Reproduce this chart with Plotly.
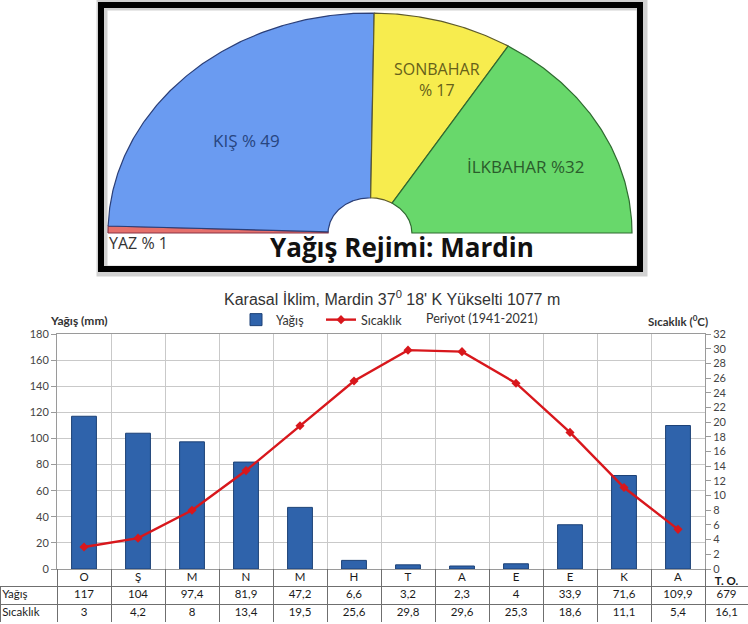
import numpy as np
import plotly.graph_objects as go

W, H = 748, 624


def px(x):
    return x / W


def py(y):
    return 1 - y / H


# ---------------- data ----------------
seasons = ["YAZ", "KIŞ", "SONBAHAR", "İLKBAHAR"]
season_share = [1, 49, 17, 32]
season_colors = ["#e5706c", "#6a9bf1", "#f7ec4e", "#68d86b"]
season_edges = ["#8a3345", "#2b3f78", "#5d5a2c", "#2f6a30"]

months = ["O", "Ş", "M", "N", "M", "H", "T", "A", "E", "E", "K", "A"]
precip = [117, 104, 97.4, 81.9, 47.2, 6.6, 3.2, 2.3, 4, 33.9, 71.6, 109.9]
temp = [3, 4.2, 8, 13.4, 19.5, 25.6, 29.8, 29.6, 25.3, 18.6, 11.1, 5.4]
precip_total = 679
temp_mean = 16.1
row_labels = ["Yağış", "Sıcaklık"]
total_label = "T. O."
left_ticks = list(range(0, 181, 20))
right_ticks = list(range(0, 33, 2))

FONT = "Lato"
TOPFONT = "Open Sans"
fig = go.Figure()

# ---------------- top: half-pie (precipitation regime) ----------------
total = sum(season_share)
r_in = 0.16
a = np.pi
for name, share, col, edge in zip(seasons, season_share, season_colors, season_edges):
    span = np.pi * share / total
    t = np.linspace(a, a - span, max(10, int(share * 4)))
    xs = np.concatenate([np.cos(t), r_in * np.cos(t[::-1]), [np.cos(t[0])]])
    ys = np.concatenate([np.sin(t), r_in * np.sin(t[::-1]), [np.sin(t[0])]])
    fig.add_trace(go.Scatter(
        x=xs, y=ys, mode="lines", fill="toself", fillcolor=col,
        line=dict(color=edge, width=1.2), xaxis="x2", yaxis="y3",
        showlegend=False, hoverinfo="text", text=f"{name} %{share}"))
    a -= span

# ---------------- bottom: climate chart ----------------
xi = list(range(len(months)))
fig.add_trace(go.Bar(
    x=xi, y=precip, name="Yağış", width=0.46,
    marker=dict(color="#2f63ab", line=dict(color="#1c4176", width=1)),
    xaxis="x", yaxis="y"))
fig.add_trace(go.Scatter(
    x=xi, y=temp, name="Sıcaklık", mode="lines+markers",
    line=dict(color="#d8171c", width=2.4),
    marker=dict(symbol="diamond", size=7, color="#d8171c"),
    xaxis="x", yaxis="y2"))


# ---------------- data table under the chart (text on its own axes) ----------------
def fmt(v):
    return f"{v:g}".replace(".", ",")


COL_W = 54.0          # px per month column
LABEL_W = 57.0        # px of the row-label column
TO_W = 43.0           # px of the total column
x3_min = -LABEL_W / COL_W - 0.5
x3_max = (W - LABEL_W) / COL_W - 0.5
to_x = 11.5 + (TO_W / COL_W) / 2
tfont = dict(family=FONT, size=11.5, color="#1a1a1a")

fig.add_trace(go.Scatter(x=xi, y=[0.5] * 12, text=months, mode="text", textfont=tfont,
                         xaxis="x3", yaxis="y4", showlegend=False, hoverinfo="skip"))
fig.add_trace(go.Scatter(x=[to_x], y=[0.72], text=[f"<b>{total_label}</b>"], mode="text",
                         textfont=tfont, xaxis="x3", yaxis="y4", showlegend=False, hoverinfo="skip"))
fig.add_trace(go.Scatter(x=[x3_min + 0.04] * 2, y=[1.5, 2.5], text=row_labels, mode="text",
                         textposition="middle right", textfont=tfont,
                         xaxis="x3", yaxis="y4", showlegend=False, hoverinfo="skip"))
fig.add_trace(go.Scatter(x=xi + [to_x], y=[1.5] * 13, text=[fmt(v) for v in precip + [precip_total]],
                         mode="text", textfont=tfont, xaxis="x3", yaxis="y4",
                         showlegend=False, hoverinfo="skip"))
fig.add_trace(go.Scatter(x=xi + [to_x], y=[2.5] * 13, text=[fmt(v) for v in temp + [temp_mean]],
                         mode="text", textfont=tfont, xaxis="x3", yaxis="y4",
                         showlegend=False, hoverinfo="skip"))

# ---------------- layout ----------------
axis_font = dict(family=FONT, size=11, color="#444")
fig.update_layout(
    width=W, height=H, margin=dict(l=0, r=0, t=0, b=0),
    paper_bgcolor="white", plot_bgcolor="white",
    showlegend=True,
    legend=dict(orientation="h", x=px(236), y=py(305), xanchor="left", yanchor="top",
                font=dict(family=FONT, size=12.5, color="#333"), bgcolor="rgba(0,0,0,0)",
                itemwidth=30, tracegroupgap=0, entrywidth=40),
    xaxis=dict(domain=[px(57), px(705)], range=[-0.5, 11.5], anchor="y",
               showticklabels=False, ticks="", showgrid=True, gridcolor="#c9c9c9",
               tick0=-0.5, dtick=1, showline=True, linecolor="#9a9a9a", mirror=True,
               zeroline=False, fixedrange=True),
    yaxis=dict(domain=[py(569), py(334)], range=[0, 180], tickvals=left_ticks,
               showgrid=True, gridcolor="#c9c9c9", showline=True, linecolor="#9a9a9a",
               ticks="outside", ticklen=5, tickcolor="#9a9a9a", tickfont=axis_font,
               zeroline=False, anchor="x", automargin=False),
    yaxis2=dict(overlaying="y", side="right", range=[0, 32], tickvals=right_ticks,
                showgrid=False, showline=True, linecolor="#9a9a9a", ticks="outside",
                ticklen=5, tickcolor="#9a9a9a", tickfont=axis_font, zeroline=False,
                anchor="x", automargin=False),
    xaxis2=dict(domain=[px(370 - 1.05 * 262), px(370 + 1.05 * 262)], range=[-1.05, 1.05],
                visible=False, anchor="y3", fixedrange=True),
    yaxis3=dict(domain=[py(233 + 0.05 * 220), py(233 - 1.05 * 220)], range=[-0.05, 1.05],
                visible=False, anchor="x2", fixedrange=True),
    xaxis3=dict(domain=[0, 1], range=[x3_min, x3_max], anchor="y4",
                tickvals=[i - 0.5 for i in range(13)], showticklabels=False, ticks="",
                showgrid=True, gridcolor="#6f6f6f", gridwidth=1, zeroline=False,
                showline=False, fixedrange=True),
    yaxis4=dict(domain=[py(622), py(569)], range=[3, 0], anchor="x3",
                tickvals=[1, 2, 3], showticklabels=False, ticks="",
                showgrid=True, gridcolor="#6f6f6f", gridwidth=1, zeroline=False,
                showline=False, fixedrange=True),
)

# left border of the table rows
fig.add_shape(type="line", xref="paper", yref="y4", x0=px(0.5), x1=px(0.5), y0=1, y1=3,
              line=dict(color="#6f6f6f", width=1))
# soft shadow + black frame around the top panel
fig.add_shape(type="rect", xref="paper", yref="paper",
              x0=px(102), x1=px(642), y0=py(271), y1=py(5),
              line=dict(color="rgba(0,0,0,0.18)", width=11), fillcolor="rgba(0,0,0,0)", layer="above")
fig.add_shape(type="rect", xref="paper", yref="paper",
              x0=px(101), x1=px(640), y0=py(269), y1=py(5),
              line=dict(color="black", width=6), fillcolor="rgba(0,0,0,0)", layer="above")

ann = []
# top panel labels
ann.append(dict(text="KIŞ % 49", x=px(246), y=py(140), font=dict(family=TOPFONT, size=17, color="#27457f")))
ann.append(dict(text="SONBAHAR<br>% 17", x=px(437), y=py(79), font=dict(family=TOPFONT, size=16, color="#66601a")))
ann.append(dict(text="İLKBAHAR %32", x=px(525), y=py(167), font=dict(family=TOPFONT, size=17, color="#2b5c2b")))
ann.append(dict(text="YAZ % 1", x=px(107), y=py(243), xanchor="left", font=dict(family=TOPFONT, size=16, color="#333")))
ann.append(dict(text="<b>Yağış Rejimi: Mardin</b>", x=px(402), y=py(247), font=dict(family=TOPFONT, size=26, color="#111")))
# bottom chart text
ann.append(dict(text="Karasal İklim, Mardin 37<sup>0</sup> 18' K Yükselti 1077 m", x=px(392), y=py(298),
                font=dict(family="Liberation Sans", size=16, color="#333")))
ann.append(dict(text="Periyot (1941-2021)", x=px(424), y=py(318), xanchor="left",
                font=dict(family=FONT, size=12.5, color="#333")))
ann.append(dict(text="<b>Yağış (mm)</b>", x=px(48), y=py(321), xanchor="left",
                font=dict(family=FONT, size=12, color="#333")))
ann.append(dict(text="<b>Sıcaklık (<sup>0</sup>C)</b>", x=px(710), y=py(321), xanchor="right",
                font=dict(family=FONT, size=11.5, color="#333")))
for d in ann:
    d.update(xref="paper", yref="paper", showarrow=False)
    d.setdefault("xanchor", "center")
    d.setdefault("yanchor", "middle")
fig.update_layout(annotations=ann)

fig.write_html(
    "out.html",
    config={"displayModeBar": False},
    post_script="document.body.style.margin='0';document.body.style.overflow='hidden';",
)
